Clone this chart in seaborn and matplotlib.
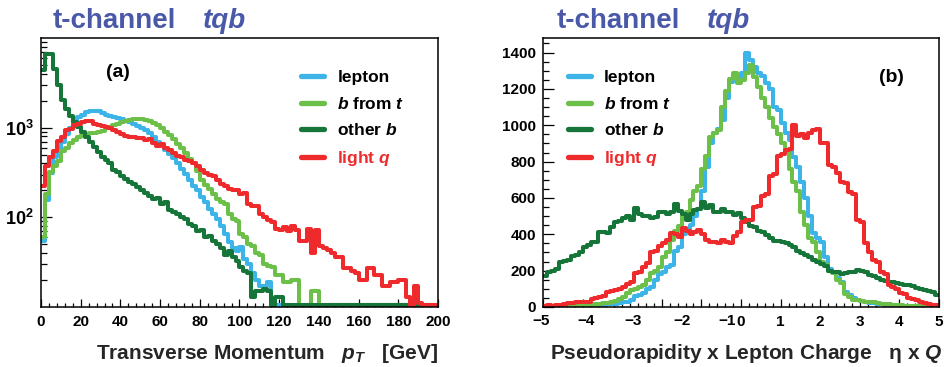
import numpy as np
import pandas as pd
import matplotlib
matplotlib.use("Agg")
import matplotlib.pyplot as plt
import seaborn as sns
from matplotlib.ticker import MultipleLocator, FixedLocator, FixedFormatter, NullFormatter

# ---------------- data ----------------
series_names = ["lepton", "b from t", "other b", "light q"]

# transverse momentum, 2 GeV bins from 0 to 200
pt_bin_width = 2
lepton_pt = [55, 155, 310, 470, 600, 700, 850, 1000, 1150, 1300,
             1400, 1480, 1530, 1550, 1520, 1450, 1380, 1340, 1300, 1270,
             1240, 1200, 1160, 1100, 1050, 990, 930, 870, 790, 700,
             630, 570, 510, 460, 400, 350, 305, 260, 225, 200,
             170, 150, 125, 110, 95, 80, 66, 53, 46, 42,
             47, 34, 30, 24, 20, 17, 17, 19, 0, 0,
             0, 0, 0, 0, 0, 0, 0, 0, 0, 0,
             0, 0, 0, 0, 0, 0, 0, 0, 0, 0,
             0, 0, 0, 0, 0, 0, 0, 0, 0, 0,
             0, 0, 0, 0, 0, 0, 0, 0, 0, 0]
bfromt_pt = [60, 180, 320, 370, 430, 550, 600, 680, 720, 780,
             820, 860, 870, 880, 890, 920, 980, 1020, 1060, 1100,
             1150, 1180, 1220, 1250, 1260, 1250, 1230, 1190, 1130, 1060,
             980, 900, 820, 740, 660, 600, 520, 450, 400, 330,
             260, 230, 205, 180, 160, 150, 140, 110, 97, 92,
             65, 60, 50, 48, 40, 38, 30, 29, 28, 23,
             23, 19, 19, 20, 20, 0, 0, 0, 15, 15,
             0, 0, 0, 0, 0, 0, 0, 0, 0, 0,
             0, 0, 0, 0, 0, 0, 0, 0, 0, 0,
             0, 0, 0, 0, 0, 0, 0, 0, 0, 0]
otherb_pt = [4400, 6700, 6700, 4500, 3000, 2050, 1600, 1350, 1150, 1030,
             900, 790, 700, 610, 530, 470, 440, 400, 340, 320,
             290, 270, 250, 235, 220, 200, 185, 175, 160, 165,
             140, 150, 120, 115, 108, 100, 95, 85, 80, 70,
             72, 60, 62, 55, 50, 45, 38, 42, 36, 33,
             28, 25, 24, 13, 15, 15, 16, 15, 0, 13,
             13, 0, 0, 0, 0, 0, 0, 0, 0, 0,
             0, 0, 0, 0, 0, 0, 0, 0, 0, 0,
             0, 0, 0, 0, 0, 0, 0, 0, 0, 0,
             0, 0, 0, 0, 0, 0, 0, 0, 0, 0]
lightq_pt = [226, 370, 470, 555, 710, 790, 930, 975, 1080, 1110,
             1150, 1180, 1200, 1100, 1080, 1050, 1020, 1000, 950, 900,
             850, 800, 790, 780, 770, 760, 720, 740, 680, 620,
             650, 600, 560, 520, 480, 470, 440, 430, 400, 370,
             340, 310, 300, 290, 260, 235, 225, 205, 200, 200,
             180, 185, 140, 135, 135, 110, 100, 93, 89, 75,
             72, 78, 70, 80, 72, 55, 55, 75, 40, 72,
             48, 45, 43, 40, 36, 36, 27, 27, 25, 24,
             20, 20, 27, 27, 23, 23, 17, 17, 19, 19,
             20, 20, 13, 0, 17, 11, 0, 0, 0, 0]

# pseudorapidity x lepton charge, 0.1 bins from -5 to 5
eta_bin_width = 0.1
lepton_eta = [0, 1, 1, 2, 2, 3, 3, 4, 5, 5,
              6, 7, 8, 9, 10, 12, 14, 16, 18, 20,
              25, 30, 40, 60, 65, 75, 100, 110, 150, 180,
              190, 220, 230, 310, 330, 400, 420, 450, 500, 540,
              640, 770, 900, 960, 980, 1030, 1150, 1240, 1250, 1260,
              1290, 1400, 1360, 1320, 1290, 1270, 1230, 1200, 1100, 1085,
              1010, 960, 920, 826, 772, 690, 600, 500, 405, 380,
              360, 275, 210, 190, 160, 140, 80, 64, 50, 40,
              32, 28, 24, 20, 17, 15, 13, 12, 11, 10,
              9, 8, 8, 7, 6, 6, 5, 5, 4, 4]
bfromt_eta = [0, 2, 2, 3, 3, 4, 5, 5, 6, 8,
              8, 10, 12, 15, 18, 20, 22, 28, 35, 45,
              55, 75, 95, 100, 110, 120, 150, 185, 200, 220,
              275, 300, 370, 420, 445, 510, 520, 590, 640, 665,
              760, 830, 935, 960, 975, 1100, 1190, 1255, 1285, 1230,
              1250, 1285, 1330, 1265, 1210, 1150, 1100, 1040, 990, 950,
              900, 860, 760, 690, 640, 520, 450, 380, 360, 300,
              250, 230, 200, 185, 150, 130, 70, 55, 40, 37,
              35, 30, 28, 25, 20, 18, 15, 14, 12, 10,
              10, 8, 8, 7, 6, 5, 5, 4, 3, 3]
otherb_eta = [170, 190, 200, 210, 245, 255, 260, 280, 285, 300,
              330, 340, 355, 360, 410, 410, 405, 440, 470, 475,
              490, 500, 480, 545, 510, 500, 500, 490, 495, 520,
              525, 510, 525, 565, 530, 510, 480, 510, 535, 540,
              575, 545, 560, 525, 520, 540, 520, 520, 505, 515,
              490, 470, 445, 440, 420, 410, 395, 380, 365, 365,
              355, 350, 340, 330, 310, 295, 285, 275, 260, 245,
              235, 225, 200, 195, 190, 180, 185, 190, 195, 205,
              200, 190, 175, 170, 160, 150, 145, 140, 135, 130,
              125, 120, 120, 115, 105, 100, 95, 90, 80, 65]
lightq_eta = [8, 10, 8, 10, 12, 18, 22, 22, 25, 25,
              28, 30, 45, 50, 55, 60, 85, 90, 95, 100,
              110, 125, 140, 185, 190, 220, 240, 300, 310, 335,
              350, 370, 405, 400, 385, 435, 420, 400, 410, 425,
              400, 370, 355, 360, 350, 370, 355, 350, 390, 410,
              470, 480, 480, 550, 555, 610, 620, 720, 730, 830,
              840, 865, 870, 1000, 940, 950, 930, 960, 975, 980,
              900, 900, 780, 770, 735, 690, 680, 630, 620, 480,
              470, 350, 300, 260, 250, 190, 180, 120, 110, 100,
              78, 72, 50, 45, 40, 30, 22, 18, 12, 10]

pt_ticks = [0, 20, 40, 60, 80, 100, 120, 140, 160, 180, 200]
eta_ticks = [-5, -4, -3, -2, -1, 0, 1, 2, 3, 4, 5]
eta_tick_labels = ["\u22125", "\u22124", "\u22123", "\u22122", "\u22121", "0", "1", "2", "3", "4", "5"]
# where the reference actually prints the negative labels (they drift right)
eta_neg_label_pos = [-5.05, -3.9, -2.72, -1.5, -0.36]
count_ticks = [0, 200, 400, 600, 800, 1000, 1200, 1400]

# ---------------- style ----------------
sns.set_theme(style="ticks")
plt.rcParams['font.family'] = ['Liberation Sans', 'DejaVu Sans']
plt.rcParams['font.weight'] = 'bold'
plt.rcParams['mathtext.fontset'] = 'custom'
plt.rcParams['mathtext.rm'] = 'Liberation Sans:bold'
plt.rcParams['mathtext.bf'] = 'Liberation Sans:bold'
plt.rcParams['mathtext.it'] = 'Liberation Sans:italic:bold'

C_LEP = "#3cb4e8"
C_BT = "#6cc04a"
C_OB = "#16763a"
C_LQ = "#ee2a2c"
C_TITLE = "#4a58a8"
colors = [C_LEP, C_BT, C_OB, C_LQ]
legend_labels = ["lepton", r"$\mathit{b}$ from $\mathit{t}$", r"other $\mathit{b}$", r"light $\mathit{q}$"]

fig = plt.figure(figsize=(9.45, 3.67), dpi=100)
axL = fig.add_axes([41/945, 1-307/367, 397/945, 269/367])
axR = fig.add_axes([543/945, 1-307/367, 396/945, 269/367])


def draw(ax, lo, width, values, color, label, floor=None):
    v = np.asarray(values, dtype=float)
    if floor is not None:
        v = np.maximum(v, floor)
    edges = lo + width * np.arange(len(v) + 1)
    df = pd.DataFrame({"x": edges, "y": np.append(v, v[-1])})
    sns.lineplot(data=df, x="x", y="y", ax=ax, color=color, linewidth=2.9,
                 drawstyle="steps-post", estimator=None, sort=False, label=label)


pt_series = [lepton_pt, bfromt_pt, otherb_pt, lightq_pt]
eta_series = [lepton_eta, bfromt_eta, otherb_eta, lightq_eta]

# empty bins sit on the lower edge of the log axis, as in ROOT
for vals, col, lab in zip(pt_series, colors, legend_labels):
    draw(axL, 0, pt_bin_width, vals, col, lab, floor=10.4)
for vals, col, lab in zip(eta_series, colors, legend_labels):
    draw(axR, -5, eta_bin_width, vals, col, lab)

# ---- left axis ----
axL.set_yscale("log")
axL.set_xlim(0, 200)
axL.set_ylim(10, 1e4)
axL.xaxis.set_major_locator(FixedLocator(pt_ticks))
axL.xaxis.set_major_formatter(FixedFormatter([str(t) for t in pt_ticks]))
axL.xaxis.set_minor_locator(MultipleLocator(4))
axL.yaxis.set_major_locator(FixedLocator([100, 1000]))
axL.yaxis.set_major_formatter(FixedFormatter([r"$\mathbf{10^{2}}$", r"$\mathbf{10^{3}}$"]))
minor_log = [m * 10 ** e for e in (1, 2, 3) for m in range(2, 10)]
axL.yaxis.set_minor_locator(FixedLocator(minor_log))
axL.yaxis.set_minor_formatter(NullFormatter())

# ---- right axis ----
axR.set_xlim(-5, 5)
axR.set_ylim(0, 1480)
axR.xaxis.set_major_locator(FixedLocator(eta_ticks))
axR.xaxis.set_major_formatter(FixedFormatter([l if t >= 0 else "" for t, l in zip(eta_ticks, eta_tick_labels)]))
axR.xaxis.set_minor_locator(MultipleLocator(0.2))
axR.yaxis.set_major_locator(FixedLocator(count_ticks))
axR.yaxis.set_major_formatter(FixedFormatter([str(t) for t in count_ticks]))
axR.yaxis.set_minor_locator(MultipleLocator(50))
for xpos, lab in zip(eta_neg_label_pos, eta_tick_labels[:5]):
    axR.text(xpos, -0.052, lab, transform=axR.get_xaxis_transform(), ha="center", va="center",
             fontsize=11, fontweight="bold", color="black")

for ax in (axL, axR):
    ax.set_xlabel("")
    ax.set_ylabel("")
    for s in ax.spines.values():
        s.set_visible(True)
        s.set_linewidth(1.1)
        s.set_color("black")
    ax.tick_params(axis="both", which="both", direction="in", top=False, right=False,
                   colors="black", width=0.9)
    ax.tick_params(axis="x", which="major", length=6, pad=6, labelsize=11)
    ax.tick_params(axis="x", which="minor", length=3)
    ax.tick_params(axis="y", which="major", length=8, pad=5, labelsize=11)
    ax.tick_params(axis="y", which="minor", length=4.5)
    for lab in ax.get_xticklabels() + ax.get_yticklabels():
        lab.set_fontweight("bold")
    ax.set_facecolor("white")

axL.tick_params(axis="y", which="major", labelsize=13, pad=5)

# axis titles (right aligned, ROOT style)
axL.set_xlabel(r"Transverse Momentum   $\mathit{p}_{\mathit{T}}$   [GeV]", fontsize=15, fontweight="bold")
axL.xaxis.set_label_coords(1.0, -0.13)
axL.xaxis.label.set_horizontalalignment("right")
axR.set_xlabel("Pseudorapidity x Lepton Charge   \u03b7 x " + r"$\mathit{Q}$",
               fontsize=15, fontweight="bold")
axR.xaxis.set_label_coords(1.01, -0.13)
axR.xaxis.label.set_horizontalalignment("right")

# legends
for ax, anchor in ((axL, (0.655, 0.882)), (axR, (0.062, 0.882))):
    leg = ax.legend(loc="upper left", bbox_to_anchor=anchor, frameon=False, fontsize=12.5,
                    handlelength=1.35, handletextpad=0.75, labelspacing=0.62,
                    borderaxespad=0, borderpad=0)
    for t in leg.get_texts():
        t.set_fontweight("bold")
        t.set_color("black")
    leg.get_texts()[3].set_color(C_LQ)
    for h in leg.get_lines():
        h.set_linewidth(3.8)

axL.text(0.194, 0.87, "(a)", transform=axL.transAxes, ha="center", va="center",
         fontsize=14, fontweight="bold", color="black")
axR.text(0.881, 0.855, "(b)", transform=axR.transAxes, ha="center", va="center",
         fontsize=14, fontweight="bold", color="black")

# panel headers
for x0 in (53, 557):
    fig.text(x0/945, 1-27.7/367, "t-channel", ha="left", va="baseline", fontsize=20,
             fontweight="bold", color=C_TITLE)
    fig.text((x0+150)/945, 1-27.7/367, "tqb", ha="left", va="baseline", fontsize=20,
             fontweight="bold", fontstyle="italic", color=C_TITLE)

fig.savefig("out.png", dpi=100, facecolor="white")
